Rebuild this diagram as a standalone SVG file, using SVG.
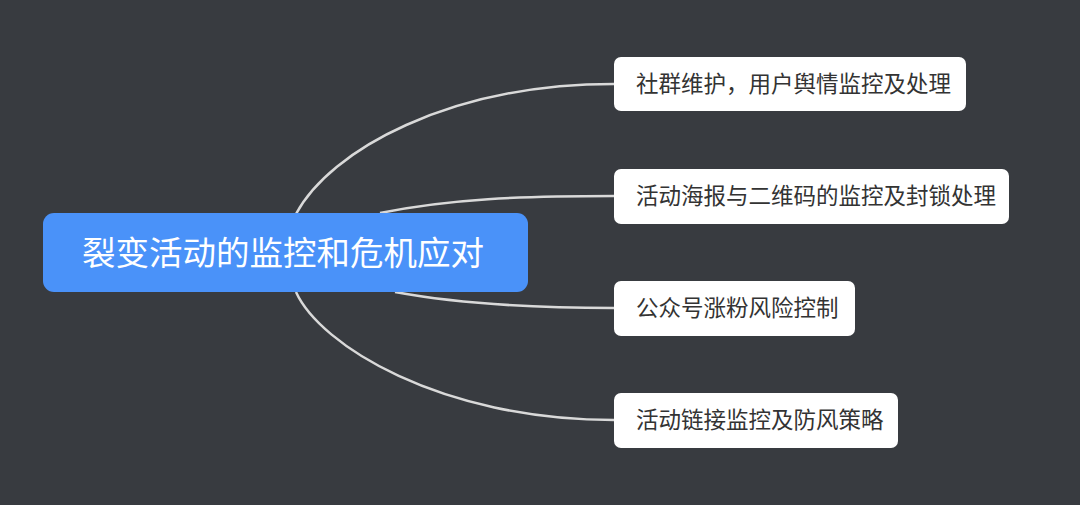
<svg xmlns="http://www.w3.org/2000/svg" width="1080" height="505" viewBox="0 0 1080 505">
<style>
.bg{fill:#383b40}
.conn{fill:none;stroke:#d9d9d9;stroke-width:2.5}
.child rect{fill:#ffffff}
.child text{font-family:"Noto Sans CJK SC","Noto Sans",sans-serif;font-size:22.5px;fill:#333333}
.root rect{fill:#4a92f9}
.root text{font-family:"Noto Sans CJK SC","Noto Sans",sans-serif;font-size:33.5px;fill:#ffffff}
</style>
<rect class="bg" x="0" y="0" width="1080" height="505"/>
<g id="connectors">
<path class="conn" d="M296,214 C330,150 450,84 614,84"/>
<path class="conn" d="M380,213 C450,199 520,196 614,196"/>
<path class="conn" d="M395,292 C460,304 530,308 614,308"/>
<path class="conn" d="M296,292 C320,345 440,420 614,420"/>
</g>
<g id="root" class="root">
<rect x="43" y="213" width="485" height="79" rx="11"/>
<text x="283" y="265" text-anchor="middle">裂变活动的监控和危机应对</text>
</g>
<g id="n1" class="child">
<rect x="614" y="57" width="352" height="54" rx="7"/>
<text x="636" y="92">社群维护，用户舆情监控及处理</text>
</g>
<g id="n2" class="child">
<rect x="614" y="169" width="395" height="55" rx="7"/>
<text x="636" y="204">活动海报与二维码的监控及封锁处理</text>
</g>
<g id="n3" class="child">
<rect x="614" y="281" width="241" height="55" rx="7"/>
<text x="636" y="316">公众号涨粉风险控制</text>
</g>
<g id="n4" class="child">
<rect x="614" y="393" width="284" height="55" rx="7"/>
<text x="636" y="428">活动链接监控及防风策略</text>
</g>
</svg>
